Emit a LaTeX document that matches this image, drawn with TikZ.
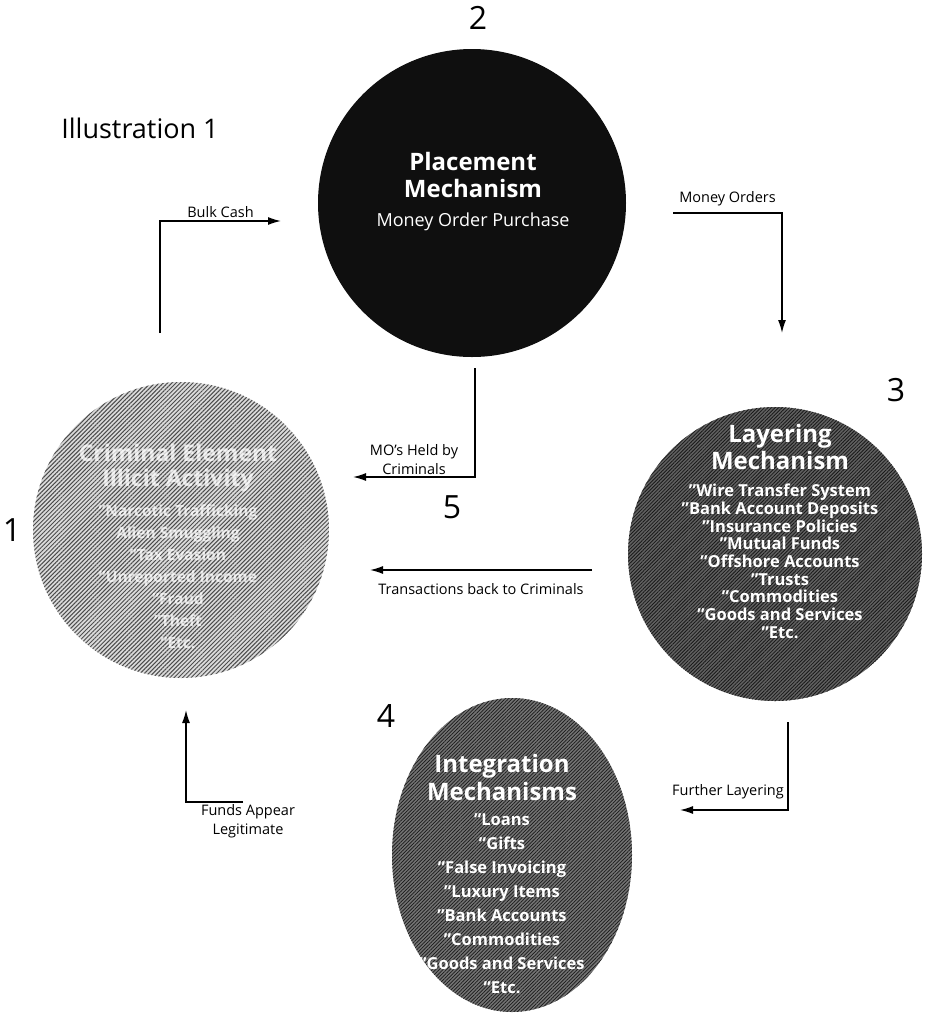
\documentclass[tikz,border=0pt]{standalone}
\usepackage{fontspec}
\setmainfont{Open Sans}
\usetikzlibrary{arrows.meta,positioning,patterns.meta,shapes.geometric}
\definecolor{PlaceClr}{rgb}{0.06,0.06,0.06}
\definecolor{LayerClr}{rgb}{0.38,0.38,0.38}
\definecolor{IntegClr}{rgb}{0.45,0.45,0.45}
\definecolor{CrimeClr}{rgb}{0.86,0.86,0.86}
\definecolor{HatchClr}{rgb}{0.1,0.1,0.1}
\definecolor{CrimeHatchClr}{rgb}{0.3,0.3,0.3}
\newcommand\HeadFont{\bfseries\fontsize{24}{27}\selectfont}
\newcommand\ItemFont{\bfseries\fontsize{16.5}{17.7}\selectfont}
\newcommand\LabelFont{\fontsize{14.5}{19}\selectfont}
\newcommand\NumFont{\fontsize{32}{32}\selectfont}

\begin{document}
\begin{tikzpicture}[x=1pt,y=-1pt,
  stage/.style={circle,inner sep=0pt,minimum size=#1},
  hatch/.style n args={3}{postaction={pattern={Lines[angle=45,distance=#1,line width=#2]},pattern color=#3}},
  head/.style={font=\HeadFont,text=white,align=center,inner sep=0pt,anchor=north},
  items/.style={font=\ItemFont,text=white,align=center,inner sep=0pt},
  num/.style={font=\NumFont,inner sep=0pt},
  lbl/.style={font=\LabelFont,align=center,inner sep=2pt},
  flow/.style={line width=1.4pt,-{Latex[length=13pt,width=8pt]}}]
\useasboundingbox (0,0) rectangle (928,1013);

\node[font=\fontsize{27}{27}\selectfont] (title) at (140,128) {Illustration 1};

\node[stage=308pt,fill=PlaceClr] (place) at (472,203) {};
\node[stage=294pt,fill=LayerClr,hatch={2.5pt}{.8pt}{HatchClr}] (layer) at (775,554) {};
\node[ellipse,inner sep=0pt,minimum width=240pt,minimum height=314pt,
      fill=IntegClr,hatch={2.5pt}{.7pt}{HatchClr}] (integ) at (512,855) {};
\node[stage=296pt,fill=CrimeClr,hatch={3pt}{1pt}{CrimeHatchClr}] (crime) at (181,530) {};

\node[head] (placeh) at (473,152) {Placement\\Mechanism};
\node[items,font=\fontsize{18}{19}\selectfont,below=15pt of placeh] (placei) {Money Order Purchase};

\node[head] (layerh) at (780,424) {Layering\\Mechanism};
\node[items,below=14pt of layerh] (layeri) {"Wire Transfer System\\"Bank Account Deposits\\"Insurance Policies\\
  "Mutual Funds\\"Offshore Accounts\\"Trusts\\"Commodities\\"Goods and Services\\"Etc.};

\node[head,font=\bfseries\fontsize{24}{28}\selectfont] (integh) at (502,754) {Integration\\Mechanisms};
\node[items,font=\bfseries\fontsize{16.5}{24}\selectfont,below=13pt of integh] (integi) {"Loans\\"Gifts\\"False Invoicing\\
  "Luxury Items\\"Bank Accounts\\"Commodities\\"Goods and Services\\"Etc.};

\node[head,text opacity=.75,font=\bfseries\fontsize{23}{25}\selectfont] (crimeh) at (178,444) {Criminal Element\\Illicit Activity};
\node[items,text opacity=.75,font=\bfseries\fontsize{15.5}{22}\selectfont,below=12pt of crimeh] (crimei) {"Narcotic Trafficking\\Alien Smuggling\\
  "Tax Evasion\\"Unreported Income\\"Fraud\\"Theft\\"Etc.};

\node[num] (n1) at (12,530) {1};
\node[num] (n2) at (478,18) {2};
\node[num] (n3) at (896,390) {3};
\node[num] (n4) at (386,716) {4};
\node[num] (n5) at (452,507) {5};

\coordinate (bulkA) at (160,333);
\coordinate (bulkB) at (281,221);
\coordinate (moA) at (673,213);
\coordinate (moB) at (782,333);
\coordinate (heldA) at (475,368);
\coordinate (heldB) at (353,477);
\coordinate (backA) at (592,570);
\coordinate (backB) at (370,570);
\coordinate (furtherA) at (788,722);
\coordinate (furtherB) at (680,810);
\coordinate (fundsA) at (243,802);
\coordinate (fundsB) at (186,710);

\draw[flow] (bulkA) |- (bulkB) node[lbl,pos=.75,above=1pt] (lbulk) {Bulk Cash};
\draw[flow] (moA) -| (moB) node[lbl,pos=.25,above=4pt] (lmo) {Money Orders};
\draw[flow] (heldA) |- (heldB) node[lbl,pos=.75,above] (lheld) {MO's Held by\\Criminals};
\draw[flow] (backA) -- (backB) node[lbl,midway,below=11pt] (lback) {Transactions back to Criminals};
\draw[flow] (furtherA) |- (furtherB) node[lbl,pos=.75,above=8pt,xshift=-6pt] (lfurther) {Further Layering};
\draw[flow] (fundsA) -| (fundsB) node[lbl,at start,below,xshift=5pt] (lfunds) {Funds Appear\\Legitimate};

\end{tikzpicture}
\end{document}
